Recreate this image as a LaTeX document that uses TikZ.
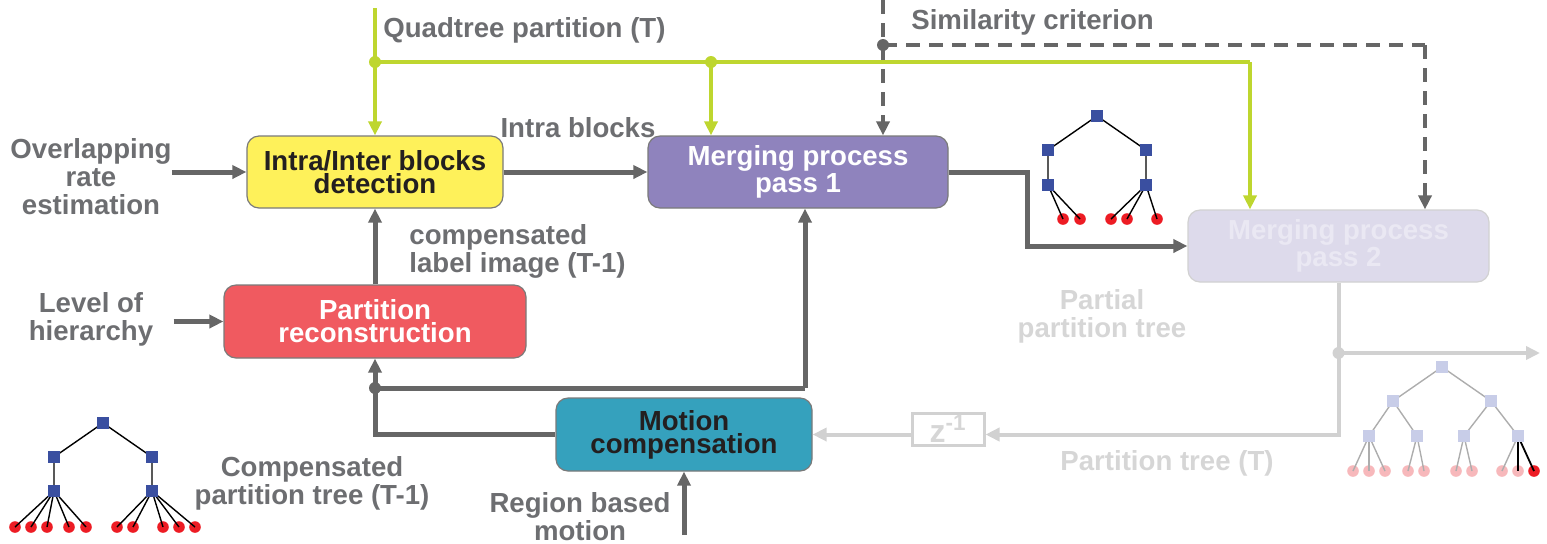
\documentclass[tikz,border=0pt]{standalone}
\usepackage{fontspec}
\setmainfont{Liberation Sans}
\usetikzlibrary{arrows.meta}
\pgfdeclarelayer{front}
\pgfsetlayers{main,front}

\definecolor{txtgray}{HTML}{6D6E71}
\definecolor{linegray}{HTML}{666666}
\definecolor{boxline}{HTML}{7A7A7A}
\definecolor{darktxt}{HTML}{231F20}
\definecolor{qgreen}{HTML}{BED62F}
\definecolor{paleline}{HTML}{D1D1D1}
\definecolor{paletxt}{HTML}{D6D6D6}
\definecolor{cyellow}{HTML}{FEF15A}
\definecolor{cpurple}{HTML}{8F83BD}
\definecolor{cpale}{HTML}{DDDAEB}
\definecolor{cpaletxt}{HTML}{EAE8F3}
\definecolor{cred}{HTML}{F05A60}
\definecolor{cteal}{HTML}{35A1BD}
\definecolor{tblue}{HTML}{3A4FA0}
\definecolor{tred}{HTML}{ED1C24}
\definecolor{fblue}{HTML}{C8CDE8}
\definecolor{fred}{HTML}{F7B8BB}
\definecolor{fedge}{HTML}{ADADAD}

\tikzset{
  lbl/.style={font=\fontsize{13.8}{14}\selectfont\bfseries, text=txtgray, inner sep=0pt, align=center},
  box/.style={rounded corners=6pt, draw=boxline, line width=0.6pt,
    font=\fontsize{13.8}{11.5}\selectfont\bfseries, align=center, inner sep=0pt,
    minimum height=36pt},
  flow/.style={draw=linegray, line width=2.5pt, -{Triangle[length=7pt,width=6.5pt]}},
  flowplain/.style={draw=linegray, line width=2.5pt},
  qflow/.style={draw=qgreen, line width=2pt, -{Triangle[length=7pt,width=6.5pt]}},
  qplain/.style={draw=qgreen, line width=2pt},
  sflow/.style={draw=linegray, line width=2pt, dash pattern=on 7pt off 4.5pt, -{Triangle[length=7pt,width=6.5pt]}},
  splain/.style={draw=linegray, line width=2pt, dash pattern=on 7pt off 4.5pt},
  pflow/.style={draw=paleline, line width=2pt, -{Triangle[length=7pt,width=6.5pt]}},
  pplain/.style={draw=paleline, line width=2pt},
  jdot/.style={circle, inner sep=0pt, minimum size=6pt},
  sq/.style={rectangle, fill=tblue, inner sep=0pt, minimum size=6pt},
  lf/.style={circle, fill=tred, inner sep=0pt, minimum size=5.8pt},
  fsq/.style={rectangle, fill=fblue, inner sep=0pt, minimum size=6pt},
  flf/.style={circle, fill=fred, inner sep=0pt, minimum size=5.8pt},
  edge/.style={draw=black, line width=0.7pt},
  fedgeline/.style={draw=fedge, line width=0.7pt},
}

\begin{document}
\begin{tikzpicture}[x=0.5pt,y=-0.5pt]
\useasboundingbox (0,0) rectangle (1547,543);

% ---------- processing blocks ----------
\node[box, fill=cyellow, text=darktxt, minimum width=128pt] (det) at (375,172) {Intra/Inter blocks\\detection};
\node[box, fill=cpurple, text=white, minimum width=150pt] (m1) at (798,172) {Merging process\\pass 1};
\node[box, draw=paleline, fill=cpale, text=cpaletxt, minimum width=150.5pt] (m2) at (1338.5,246) {Merging process\\pass 2};
\node[box, fill=cred, text=white, minimum width=151pt, minimum height=36.5pt] (rec) at (375,321.5) {Partition\\reconstruction};
\node[box, fill=cteal, text=darktxt, minimum width=128pt, minimum height=36.5pt] (mc) at (684,434.5) {Motion\\compensation};
\node[draw=paleline, line width=1.5pt, minimum width=36pt, minimum height=16pt, inner sep=0pt,
  text=paletxt, font=\fontsize{16}{16}\selectfont\bfseries] (zd) at (948,429) {z\textsuperscript{-1}};

% ---------- labels ----------
\node[lbl, anchor=west] (qlab) at (383,30) {Quadtree partition (T)};
\node[lbl, anchor=west] (slab) at (911,22) {Similarity criterion};
\node[lbl] (intra) at (578,128) {Intra blocks};
\node[lbl, anchor=west, align=left] (clab) at (409,251) {compensated\\label image (T-1)};
\node[lbl] (ovl) at (91,177) {Overlapping\\rate\\estimation};
\node[lbl] (lvl) at (91,319) {Level of\\hierarchy};
\node[lbl, text=paletxt] (ptl) at (1102,316) {Partial\\partition tree};
\node[lbl, text=paletxt] (ptt) at (1167,463) {Partition tree (T)};
\node[lbl] (cpt) at (312,483) {Compensated\\partition tree (T-1)};
\node[lbl] (rbm) at (580,517) {Region based\\motion};

% ---------- quadtree partition (green) ----------
\coordinate (qin) at (375,8);
\coordinate (qj1) at (375,62);
\coordinate (qj2) at (711,62);
\coordinate (qturn) at (1250,62);
\draw[qflow] (qin) -- (det.north);
\draw[qplain] (qj1) -- (qturn);
\draw[qflow] (qturn) -- (qturn |- m2.north);
\draw[qflow] (qj2) -- (qj2 |- m1.north);
\node[jdot, fill=qgreen] at (qj1) {};
\node[jdot, fill=qgreen] at (qj2) {};

% ---------- similarity criterion (dashed) ----------
\coordinate (sin) at (883,0);
\coordinate (sj) at (883,45);
\coordinate (sturn) at (1425,45);
\draw[sflow] (sin) -- (sin |- m1.north);
\draw[splain] (sj) -- (sturn);
\draw[sflow] (sturn) -- (sturn |- m2.north);
\node[jdot, fill=linegray] at (sj) {};

% ---------- main flow ----------
\draw[flow] (ovl.east |- det.west) -- (det.west);
\draw[flow] ([xshift=10pt]lvl.east |- rec.west) -- (rec.west);
\draw[flow] (det.east) -- (m1.west);
\draw[flow] (rec.north) -- (det.south);
\coordinate (mturn) at (1027,172);
\draw[flow] (m1.east) -- (mturn) |- (m2.west);
\coordinate (cj) at (375,388);
\coordinate (cturn) at (805,388);
\draw[flow] (mc.west) -| (rec.south);
\draw[flowplain] (cj) -- (cturn);
\draw[flow] (cturn) -- (cturn |- m1.south);
\node[jdot, fill=linegray] at (cj) {};
\coordinate (rin) at (684,535);
\draw[flow] (rin) -- (mc.south);

% ---------- feedback (pale) ----------
\coordinate (pj) at (1338.5,353);
\coordinate (pout) at (1540,353);
\draw[pflow] (m2.south) -- (m2.south |- mc.east) -- (zd.east |- mc.east);
\draw[pflow] (zd.west |- mc.east) -- (mc.east);
\draw[pflow] (pj) -- (pout);
\node[jdot, fill=paleline] at (pj) {};

% ---------- partial partition tree ----------
\begin{pgfonlayer}{front}
\node[sq] (a0) at (1097,116) {};
\node[sq] (a1) at (1048,150) {};
\node[sq] (a2) at (1146,150) {};
\node[sq] (a3) at (1048,185) {};
\node[sq] (a4) at (1146,185) {};
\end{pgfonlayer}
\foreach \n/\x in {1/1063,2/1080,3/1111,4/1127,5/1157}
  \node[lf] (al\n) at (\x,219) {};
\draw[edge] (a0.center) -- (a1.center) -- (a3.center);
\draw[edge] (a0.center) -- (a2.center) -- (a4.center);
\foreach \n in {1,2} \draw[edge] (a3.center) -- (al\n.center);
\foreach \n in {3,4,5} \draw[edge] (a4.center) -- (al\n.center);

% ---------- compensated partition tree ----------
\begin{pgfonlayer}{front}
\node[sq] (b0) at (103,423) {};
\node[sq] (b1) at (54,457) {};
\node[sq] (b2) at (152,457) {};
\node[sq] (b3) at (54,491) {};
\node[sq] (b4) at (152,491) {};
\end{pgfonlayer}
\foreach \n/\x in {1/15,2/31,3/47,4/69,5/86,6/117,7/133,8/163,9/179,10/195}
  \node[lf] (bl\n) at (\x,527) {};
\draw[edge] (b0.center) -- (b1.center) -- (b3.center);
\draw[edge] (b0.center) -- (b2.center) -- (b4.center);
\foreach \n in {1,...,5} \draw[edge] (b3.center) -- (bl\n.center);
\foreach \n in {6,...,10} \draw[edge] (b4.center) -- (bl\n.center);

% ---------- partition tree (T) ----------
\begin{pgfonlayer}{front}
\node[fsq] (c0) at (1442,367) {};
\node[fsq] (c1) at (1393,401) {};
\node[fsq] (c2) at (1491,401) {};
\node[fsq] (c3) at (1369,436) {};
\node[fsq] (c4) at (1417,436) {};
\node[fsq] (c5) at (1464,436) {};
\node[fsq] (c6) at (1518,436) {};
\end{pgfonlayer}
\foreach \n/\x in {1/1353,2/1369,3/1385,4/1408,5/1424,6/1456,7/1472,8/1502,9/1518}
  \node[flf] (cl\n) at (\x,471) {};
\node[lf] (cl10) at (1534,471) {};
\draw[fedgeline] (c0.center) -- (c1.center) -- (c3.center);
\draw[fedgeline] (c1.center) -- (c4.center);
\draw[fedgeline] (c0.center) -- (c2.center) -- (c5.center);
\draw[fedgeline] (c2.center) -- (c6.center);
\foreach \n in {1,2,3} \draw[fedgeline] (c3.center) -- (cl\n.center);
\foreach \n in {4,5} \draw[fedgeline] (c4.center) -- (cl\n.center);
\foreach \n in {6,7} \draw[fedgeline] (c5.center) -- (cl\n.center);
\draw[fedgeline] (c6.center) -- (cl8.center);
\draw[edge, line width=0.9pt] (c6.center) -- (cl9.center);
\draw[edge, line width=0.9pt] (c6.center) -- (cl10.center);
\end{tikzpicture}
\end{document}
